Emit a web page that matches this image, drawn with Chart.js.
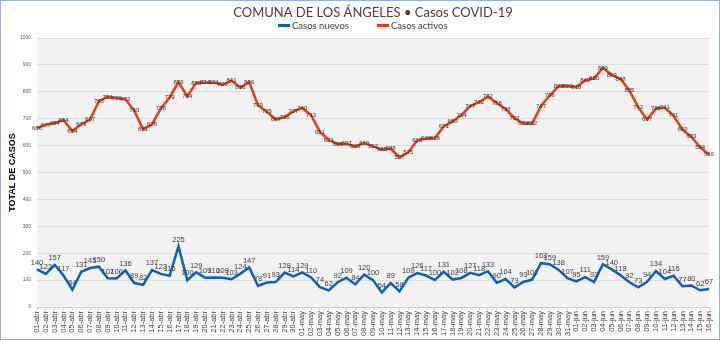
<!DOCTYPE html>
<html>
<head>
<meta charset="utf-8">
<script src="https://cdn.jsdelivr.net/npm/chart.js@4/dist/chart.umd.min.js"></script>
<style>
html,body{margin:0;padding:0;background:#fff;}
#wrap{position:relative;width:720px;height:340px;box-sizing:border-box;border:1px solid #8fb4e3;}
canvas{display:block;}
</style>
</head>
<body>
<div id="wrap"><canvas id="c" width="718" height="338"></canvas></div>
<script>
const categories = [
"01-abr","02-abr","03-abr","04-abr","05-abr","06-abr","07-abr","08-abr","09-abr","10-abr",
"11-abr","12-abr","13-abr","14-abr","15-abr","16-abr","17-abr","18-abr","19-abr","20-abr",
"21-abr","22-abr","23-abr","24-abr","25-abr","26-abr","27-abr","28-abr","29-abr","30-abr",
"01-may","02-may","03-may","04-may","05-may","06-may","07-may","08-may","09-may","10-may",
"11-may","12-may","13-may","14-may","15-may","16-may","17-may","18-may","19-may","20-may",
"21-may","22-may","23-may","24-may","25-may","26-may","27-may","28-may","29-may","30-may",
"31-may","01-jun","02-jun","03-jun","04-jun","05-jun","06-jun","07-jun","08-jun","09-jun",
"10-jun","11-jun","12-jun","13-jun","14-jun","15-jun","16-jun"];

const casosNuevos = [
140,123,157,117,64,131,145,150,107,106,
136,89,82,137,123,116,225,100,129,109,
110,109,103,124,147,78,91,93,128,114,
129,110,74,62,92,109,84,120,100,54,
89,58,109,126,117,100,131,102,108,127,
118,133,90,104,73,93,102,163,159,138,
107,95,111,93,159,140,118,92,73,94,
134,104,116,77,80,62,67];

const casosActivos = [
666,677,684,694,654,679,697,765,781,776,
772,730,661,678,738,779,836,784,833,834,
834,826,841,816,836,749,726,697,706,727,
740,713,651,621,606,607,596,610,597,585,
588,557,575,619,626,628,671,690,714,747,
762,782,758,736,702,682,682,747,786,822,
822,818,842,850,889,863,848,805,742,697,
738,741,711,659,633,594,566];

const yTicks = {min:0, max:1000, step:100};
const seriesNames = ["Casos nuevos","Casos activos"];
const titleText = "COMUNA DE LOS ÁNGELES • Casos COVID-19";
const yTitle = "TOTAL DE CASOS";

const BLUE = "#0a5fc4";
const RED = "#f03a0c";
const TXT = "#404040";

const bgPlugin = {
  id:'plotBg',
  beforeDraw(chart){
    const {ctx, chartArea:a} = chart;
    ctx.save();
    ctx.fillStyle = '#f2f2f2';
    ctx.fillRect(a.left, a.top, a.right-a.left, a.bottom-a.top);
    ctx.restore();
  }
};

// title + legend drawn in the header band
const headerPlugin = {
  id:'header',
  afterDraw(chart){
    const ctx = chart.ctx;
    ctx.save();
    ctx.fillStyle = TXT;
    ctx.textAlign = 'center';
    ctx.textBaseline = 'middle';
    ctx.font = '13px Lato, "Open Sans", sans-serif';
    ctx.fillText(titleText, 372, 12);
    // legend
    ctx.font = '9.5px Lato, "Open Sans", sans-serif';
    ctx.textAlign = 'left';
    const items = [{x:277, c:BLUE, t:seriesNames[0]}, {x:376, c:RED, t:seriesNames[1]}];
    items.forEach(it => {
      ctx.fillStyle = it.c;
      ctx.fillRect(it.x, 23, 12, 3);
      ctx.fillStyle = TXT;
      ctx.fillText(it.t, it.x + 14, 24.5);
    });
    ctx.restore();
  }
};

const labelPlugin = {
  id:'dataLabels',
  afterDatasetsDraw(chart){
    const ctx = chart.ctx;
    chart.data.datasets.forEach((ds, di) => {
      const meta = chart.getDatasetMeta(di);
      ctx.save();
      ctx.textAlign = 'center';
      if (di === 0) {
        ctx.font = '7.5px "Liberation Sans", Arial, sans-serif';
        ctx.fillStyle = '#404040';
        ctx.textBaseline = 'bottom';
        meta.data.forEach((pt, i) => {
          ctx.fillText(String(ds.data[i]), pt.x, pt.y - 3);
        });
      } else {
        ctx.font = '6px "Liberation Sans", Arial, sans-serif';
        ctx.fillStyle = '#333333';
        ctx.textBaseline = 'middle';
        meta.data.forEach((pt, i) => {
          ctx.fillText(String(ds.data[i]), pt.x, pt.y);
        });
      }
      ctx.restore();
    });
  }
};

new Chart(document.getElementById('c'), {
  type:'line',
  data:{
    labels: categories,
    datasets:[
      {label:seriesNames[0], data:casosNuevos, borderColor:BLUE, backgroundColor:BLUE, borderWidth:2.5, pointRadius:0, tension:0},
      {label:seriesNames[1], data:casosActivos, borderColor:RED, backgroundColor:RED, borderWidth:2.5, pointRadius:0, tension:0}
    ]
  },
  options:{
    responsive:false,
    animation:false,
    devicePixelRatio:1,
    layout:{padding:{left:2, right:6, top:37, bottom:2}},
    plugins:{
      tooltip:{enabled:false},
      title:{display:false},
      legend:{display:false}
    },
    scales:{
      x:{
        afterFit(s){ s.height = 30; },
        grid:{display:true, drawOnChartArea:false, color:'#d0d0d0', tickLength:3},
        border:{color:'#d0d0d0'},
        ticks:{autoSkip:false, maxRotation:90, minRotation:90, color:'#404040', padding:1,
          font:{family:'"Liberation Sans", Arial, sans-serif', size:7.5}}
      },
      y:{
        min:yTicks.min, max:yTicks.max,
        afterFit(s){ s.width = 34; },
        grid:{color:'#dcdcdc', drawTicks:false},
        border:{display:false},
        ticks:{stepSize:yTicks.step, color:'#595959', padding:6,
          callback:(v)=>String(v),
          font:{family:'"Liberation Sans", Arial, sans-serif', size:5}},
        title:{display:true, text:yTitle, color:'#000',
          font:{family:'"Liberation Sans", Arial, sans-serif', size:9, weight:'bold'}, padding:{top:4,bottom:0}}
      }
    }
  },
  plugins:[bgPlugin, labelPlugin, headerPlugin]
});
</script>
</body>
</html>
